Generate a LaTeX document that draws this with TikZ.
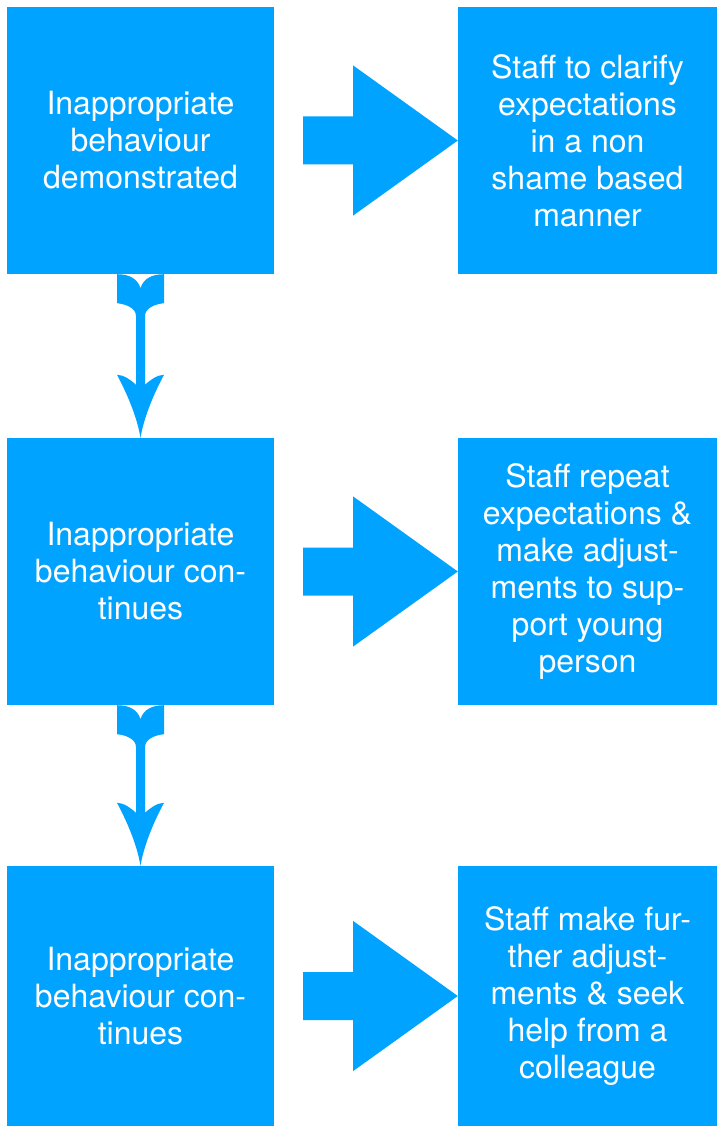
\documentclass[tikz,border=0pt]{standalone}
\usepackage{fontspec}
\setmainfont{TeX Gyre Heros}
\usetikzlibrary{calc}
\definecolor{flowblue}{RGB}{0,163,255}
\tikzset{
  stage/.style={rectangle, fill=flowblue, text=white, inner sep=0pt, align=center,
    minimum width=267pt, minimum height=267pt, font=\fontsize{32}{37}\selectfont},
  action/.style={stage, minimum width=259pt}
}
% fat arrow from a box to the box on its right
\newcommand{\flowright}[2]{%
  \fill[flowblue] let \p1=(#1.east), \p2=(#2.west) in
    (\x1+29pt,\y1+24pt) -- (\x1+79pt,\y1+24pt) -- (\x1+79pt,\y1+75pt) -- (\x2,\y1)
    -- (\x1+79pt,\y1-75pt) -- (\x1+79pt,\y1-24pt) -- (\x1+29pt,\y1-24pt) -- cycle;}
% feathered arrow from a box to the box below
\newcommand{\flowdown}[2]{%
  \fill[flowblue] let \p1=(#1.south), \p2=(#2.north) in
    (\x1-23.5pt,\y1) .. controls (\x1-12pt,\y1) and (\x1-3pt,\y1-4pt) .. (\x1,\y1-14pt)
    .. controls (\x1+3pt,\y1-4pt) and (\x1+12pt,\y1) .. (\x1+23.5pt,\y1)
    -- (\x1+23.5pt,\y1-29pt)
    .. controls (\x1+14pt,\y1-30pt) and (\x1+4.5pt,\y1-34pt) .. (\x1+4.5pt,\y1-42pt)
    -- (\x1+4.5pt,\y2+53pt)
    .. controls (\x1+10pt,\y2+58pt) and (\x1+17pt,\y2+63pt) .. (\x1+23.5pt,\y2+63pt)
    .. controls (\x1+16pt,\y2+49pt) and (\x1+4pt,\y2+24pt) .. (\x2,\y2)
    .. controls (\x1-4pt,\y2+24pt) and (\x1-16pt,\y2+49pt) .. (\x1-23.5pt,\y2+63pt)
    .. controls (\x1-17pt,\y2+63pt) and (\x1-10pt,\y2+58pt) .. (\x1-4.5pt,\y2+53pt)
    -- (\x1-4.5pt,\y1-42pt)
    .. controls (\x1-4.5pt,\y1-34pt) and (\x1-14pt,\y1-30pt) .. (\x1-23.5pt,\y1-29pt)
    -- cycle;}
\begin{document}
\begin{tikzpicture}[x=1pt,y=-1pt]
  \useasboundingbox (0,0) rectangle (717,1126);
  % left column
  \node[stage] (behave1) at (140.5,140.5) {Inappropriate\\behaviour\\demonstrated};
  \node[stage] (behave2) at (140.5,571.5) {Inappropriate\\behaviour con-\\tinues};
  \node[stage, minimum height=260pt] (behave3) at (140.5,996) {Inappropriate\\behaviour con-\\tinues};
  % right column
  \node[action] (staff1) at (587.5,140.5) {Staff to clarify\\expectations\\in a non\\shame based\\manner};
  \node[action] (staff2) at (587.5,571.5) {Staff repeat\\expectations \&\\make adjust-\\ments to sup-\\port young\\person};
  \node[action, minimum height=260pt] (staff3) at (587.5,996) {Staff make fur-\\ther adjust-\\ments \& seek\\help from a\\colleague};
  \flowright{behave1}{staff1}
  \flowright{behave2}{staff2}
  \flowright{behave3}{staff3}
  \flowdown{behave1}{behave2}
  \flowdown{behave2}{behave3}
\end{tikzpicture}
\end{document}
